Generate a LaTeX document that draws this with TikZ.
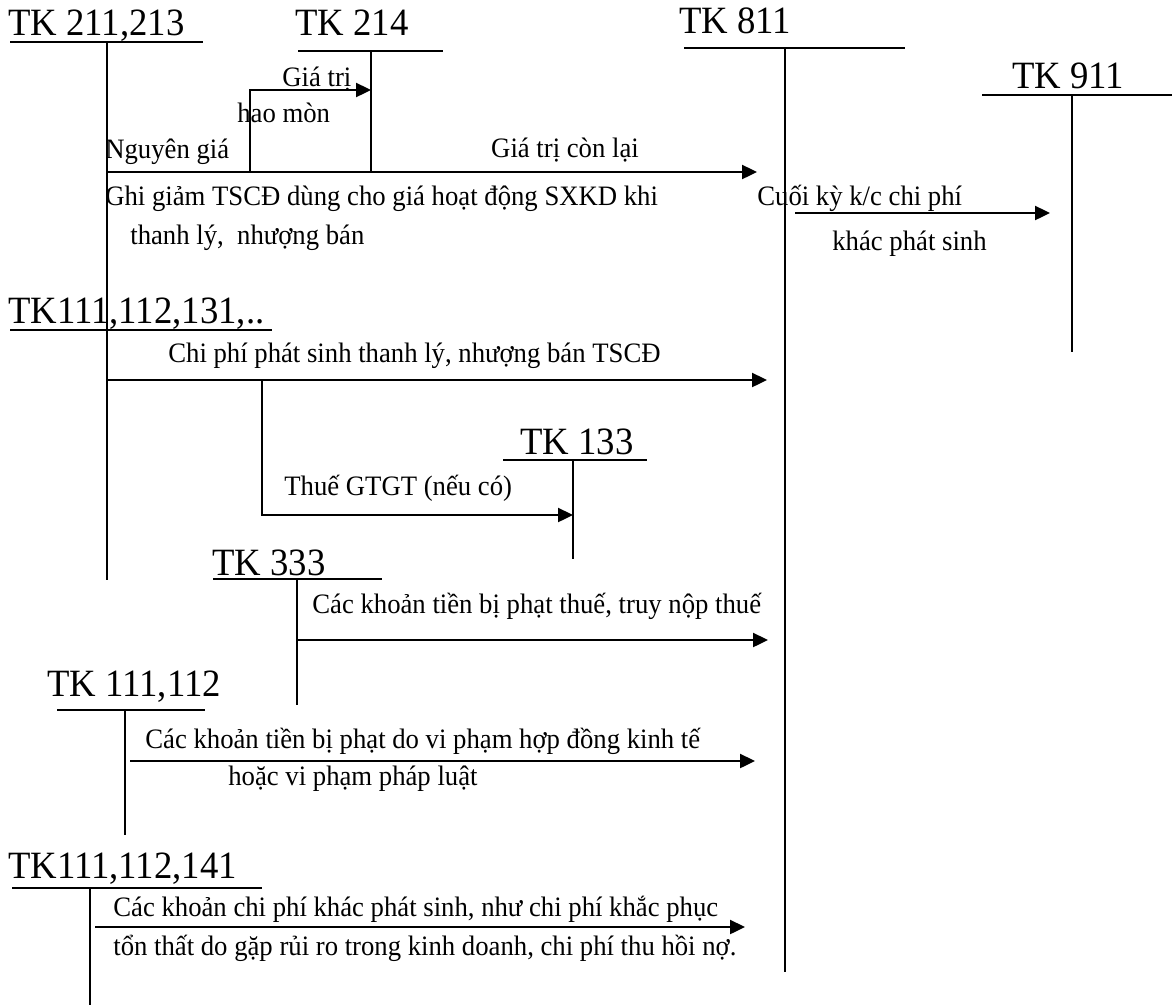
\documentclass[tikz,border=0pt]{standalone}
\usepackage{fontspec}
\setmainfont{Liberation Serif}[FakeStretch=0.95]
\usepackage{tikz}
\usetikzlibrary{positioning,arrows.meta,calc}
\newcommand{\tkfont}{\fontsize{22}{26}\selectfont}
\newcommand{\lbfont}{\fontsize{16}{19}\selectfont}
% T-account: name, label, text x, text base y, line left, line right, line y, vertical x, bottom y
\newcommand{\taikhoan}[9]{%
    \node[tktitle] (#1) at (#3,#4) {#2};
    \coordinate (#1-l) at (#5,#7);
    \coordinate (#1-r) at (#6,#7);
    \coordinate (#1-top) at (#8,#7);
    \coordinate (#1-bot) at (#8,#9);
    \draw[tkline] (#1-l) -- (#1-r);
    \draw[tkline] (#1-top) -- (#1-bot);
}

\begin{document}
\begin{tikzpicture}[x=0.02cm,y=-0.02cm,
    tktitle/.style={anchor=base west,inner sep=0pt,font=\tkfont},
    lbl/.style={anchor=base west,inner sep=0pt,font=\lbfont},
    tkline/.style={line width=1.1pt},
    tkarrow/.style={line width=1.1pt,-{Triangle[length=8.5pt,width=8pt]}}]
    \useasboundingbox (0,0) rectangle (1172,1005);
    % tai khoan chu T
    \taikhoan{tk211}{TK 211,213}{8}{35}{10}{203}{42}{107}{330}
    \taikhoan{tk214}{TK 214}{295}{35}{298}{443}{51}{371}{172}
    \taikhoan{tk811}{TK 811}{679}{33}{684}{905}{48}{785}{972}
    \taikhoan{tk911}{TK 911}{1012}{88}{982}{1172}{95}{1072}{352}
    \taikhoan{tk111a}{TK111,112,131,..}{8}{323}{10}{272}{330}{107}{580}
    \taikhoan{tk133}{TK 133}{520}{454}{503}{647}{460}{573}{559}
    \taikhoan{tk333}{TK 333}{212}{575}{213}{382}{579}{297}{705}
    \taikhoan{tk111b}{TK 111,112}{47}{696}{57}{205}{710}{125}{835}
    \taikhoan{tk111c}{TK111,112,141}{8}{878}{12}{262}{888}{90}{1005}

    % diem dau, diem cuoi cac mui ten
    \coordinate (hm) at (250,172);
    \coordinate (gtcl-end) at (757,172);
    \coordinate (kc-start) at (795,213);
    \coordinate (kc-end) at (1050,213);
    \coordinate (cp-end) at (767,380);
    \coordinate (vat) at (262,380);
    \coordinate (thue-end) at (768,640);
    \coordinate (phat-start) at (130,761);
    \coordinate (phat-end) at (755,761);
    \coordinate (khac-start) at (95,927);
    \coordinate (khac-end) at (745,927);

    \draw[tkarrow] (hm) |- (tk214-top |- 0,90);
    \draw[tkarrow] (tk211-top |- hm) -- (gtcl-end);
    \draw[tkarrow] (kc-start) -- (kc-end);
    \draw[tkarrow] (tk111a-top |- cp-end) -- (cp-end);
    \draw[tkarrow] (vat) |- (tk133-top |- 0,515);
    \draw[tkarrow] (tk333-top |- thue-end) -- (thue-end);
    \draw[tkarrow] (phat-start) -- (phat-end);
    \draw[tkarrow] (khac-start) -- (khac-end);

    % noi dung
    \node[lbl] (l1) at (282,86) {Giá trị};
    \node[lbl] (l2) at (237,122) {hao mòn};
    \node[lbl] (l3) at (105,158) {Nguyên giá};
    \node[lbl,anchor=base] (l4) at (565,157) {Giá trị còn lại};
    \node[lbl] (l5) at (105,205) {Ghi giảm TSCĐ dùng cho giá hoạt động SXKD khi};
    \node[lbl] (l6) at (130,244) {thanh lý,\ \ nhượng bán};
    \node[lbl] (l7) at (757,205) {Cuối kỳ k/c chi phí};
    \node[lbl] (l8) at (832,250) {khác phát sinh};
    \node[lbl] (l9) at (168,362) {Chi phí phát sinh thanh lý, nhượng bán TSCĐ};
    \node[lbl] (l10) at (284,495) {Thuế GTGT (nếu có)};
    \node[lbl] (l11) at (312,613) {Các khoản tiền bị phạt thuế, truy nộp thuế};
    \node[lbl] (l12) at (145,748) {Các khoản tiền bị phạt do vi phạm hợp đồng kinh tế};
    \node[lbl] (l13) at (228,785) {hoặc vi phạm pháp luật};
    \node[lbl] (l14) at (113,916) {Các khoản chi phí khác phát sinh, như chi phí khắc phục};
    \node[lbl] (l15) at (113,955) {tổn thất do gặp rủi ro trong kinh doanh, chi phí thu hồi nợ.};
\end{tikzpicture}
\end{document}
